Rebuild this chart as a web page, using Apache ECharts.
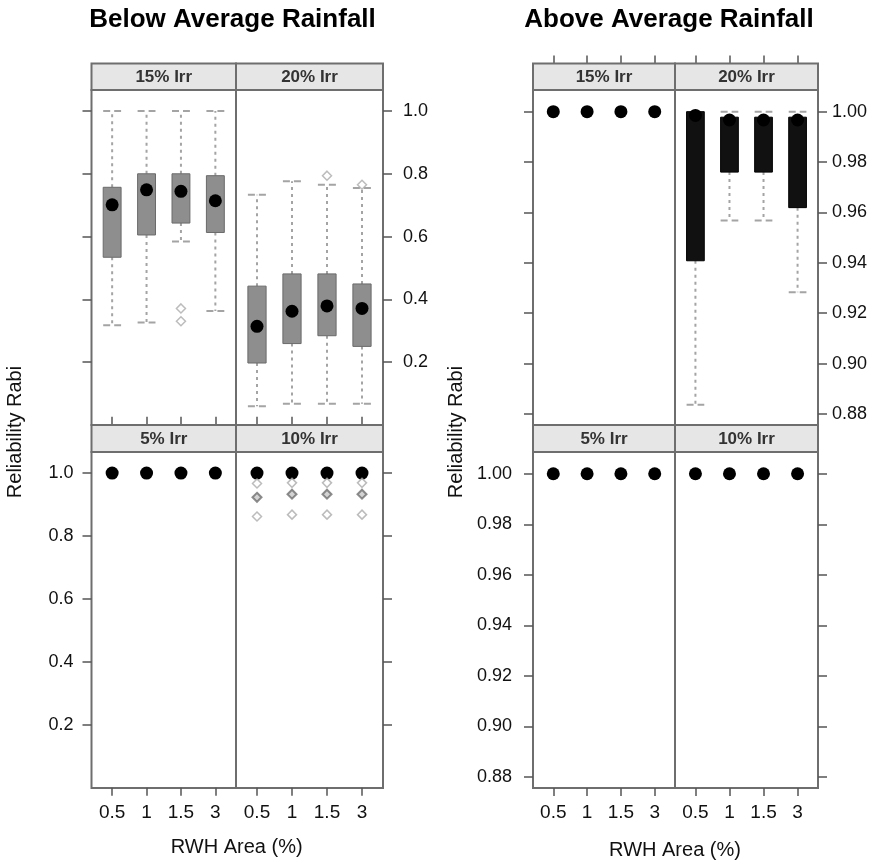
<!DOCTYPE html>
<html>
<head>
<meta charset="utf-8">
<title>Reliability Rabi</title>
<script src="https://cdn.jsdelivr.net/npm/echarts@6/dist/echarts.min.js"></script>
<style>
  html, body { margin: 0; padding: 0; background: #fff; }
  #chart { width: 875px; height: 864px; }
</style>
</head>
<body>
<div id="chart"></div>
<script>
// RWH area categories along every panel's x axis
const areaLabels = ['0.5', '1', '1.5', '3'];

// Tick values of the two reliability scales
const ticksBelow = [0.2, 0.4, 0.6, 0.8, 1.0];
const ticksAbove = [0.88, 0.90, 0.92, 0.94, 0.96, 0.98, 1.00];

// Box statistics per RWH area: [lower whisker, Q1, median, Q3, upper whisker]
// Below average rainfall
const below15 = [
  [0.317, 0.534, 0.701, 0.757, 1.0],
  [0.326, 0.605, 0.749, 0.800, 1.0],
  [0.584, 0.643, 0.744, 0.800, 1.0],
  [0.363, 0.613, 0.714, 0.794, 1.0]
];
const below20 = [
  [0.059, 0.197, 0.314, 0.442, 0.733],
  [0.067, 0.259, 0.362, 0.481, 0.776],
  [0.067, 0.284, 0.379, 0.481, 0.765],
  [0.067, 0.250, 0.371, 0.449, 0.755]
];
const below5 = [
  [1, 1, 1, 1, 1], [1, 1, 1, 1, 1], [1, 1, 1, 1, 1], [1, 1, 1, 1, 1]
];
const below10 = [
  [1, 1, 1, 1, 1], [1, 1, 1, 1, 1], [1, 1, 1, 1, 1], [1, 1, 1, 1, 1]
];
// Outliers: [area index (1-4), reliability]
const below15Outliers = [[3, 0.371], [3, 0.330]];
const below20Outliers = [[3, 0.794], [4, 0.765]];
const below10Outliers = [
  [1, 0.967], [1, 0.862], [2, 0.969], [2, 0.868],
  [3, 0.969], [3, 0.868], [4, 0.969], [4, 0.868]
];
// Outliers hit by several runs (drawn darker)
const below10Repeated = [[1, 0.923], [2, 0.933], [3, 0.933], [4, 0.933]];

// Above average rainfall
const above15 = [
  [1, 1, 1, 1, 1], [1, 1, 1, 1, 1], [1, 1, 1, 1, 1], [1, 1, 1, 1, 1]
];
const above20 = [
  [0.8836, 0.9408, 0.9985, 1.0000, 1.0],
  [0.9568, 0.9760, 0.9967, 0.9978, 1.0],
  [0.9568, 0.9760, 0.9967, 0.9978, 1.0],
  [0.9283, 0.9619, 0.9967, 0.9978, 1.0]
];
const above5 = [
  [1, 1, 1, 1, 1], [1, 1, 1, 1, 1], [1, 1, 1, 1, 1], [1, 1, 1, 1, 1]
];
const above10 = [
  [1, 1, 1, 1, 1], [1, 1, 1, 1, 1], [1, 1, 1, 1, 1], [1, 1, 1, 1, 1]
];

// ---- layout ----
const FONT = '"Liberation Sans", Arial, Helvetica, sans-serif';
const FRAME = '#6e6e6e';
const ROWS = { stripTop: 63.5, topData: 90, stripMid: 425, botData: 452, bottom: 788 };

const figures = [
  {
    title: 'Below Average Rainfall',
    x0: 91.5, xm: 236, x1: 383,
    titleX: 232.5, nameX: 236.7, nameY: 847, ylabX: 15,
    yMin: -0.0005, yMax: 1.067, ticks: ticksBelow, digits: 1,
    leftMargin: 18, rightMargin: 20,
    boxFill: '#8e8e8e', boxStroke: '#6a6a6a',
    panels: [
      { row: 0, col: 0, strip: '15% Irr', boxes: below15, outliers: below15Outliers },
      { row: 0, col: 1, strip: '20% Irr', boxes: below20, outliers: below20Outliers },
      { row: 1, col: 0, strip: '5% Irr', boxes: below5, outliers: [] },
      { row: 1, col: 1, strip: '10% Irr', boxes: below10, outliers: below10Outliers, repeated: below10Repeated }
    ]
  },
  {
    title: 'Above Average Rainfall',
    x0: 533, xm: 675, x1: 818,
    titleX: 669, nameX: 675, nameY: 850, ylabX: 456,
    yMin: 0.8756, yMax: 1.0086, ticks: ticksAbove, digits: 2,
    leftMargin: 21, rightMargin: 14,
    boxFill: '#111111', boxStroke: '#000000',
    panels: [
      { row: 0, col: 0, strip: '15% Irr', boxes: above15, outliers: [] },
      { row: 0, col: 1, strip: '20% Irr', boxes: above20, outliers: [] },
      { row: 1, col: 0, strip: '5% Irr', boxes: above5, outliers: [] },
      { row: 1, col: 1, strip: '10% Irr', boxes: above10, outliers: [] }
    ]
  }
];

// Box-and-whisker glyph: dashed whiskers with caps, filled box, black median dot
function makeBoxRenderer(fig) {
  return function (params, api) {
    const x = api.value(0);
    const lo = api.value(1), q1 = api.value(2), md = api.value(3), q3 = api.value(4), hi = api.value(5);
    const cx = api.coord([x, md])[0];
    const y = v => api.coord([x, v])[1];
    const hw = api.size([1, 0])[0] * 0.26;
    const whisker = { stroke: '#a4a4a4', lineWidth: 2, lineDash: [3, 4] };
    const cap = { stroke: '#a4a4a4', lineWidth: 2, lineDash: [7, 4] };
    const children = [];
    if (hi > q3) {
      children.push({ type: 'line', shape: { x1: cx, y1: y(q3), x2: cx, y2: y(hi) }, style: whisker });
      children.push({ type: 'line', shape: { x1: cx - hw, y1: y(hi), x2: cx + hw, y2: y(hi) }, style: cap });
    }
    if (lo < q1) {
      children.push({ type: 'line', shape: { x1: cx, y1: y(q1), x2: cx, y2: y(lo) }, style: whisker });
      children.push({ type: 'line', shape: { x1: cx - hw, y1: y(lo), x2: cx + hw, y2: y(lo) }, style: cap });
    }
    if (q3 > q1) {
      children.push({
        type: 'rect',
        shape: { x: cx - hw, y: y(q3), width: hw * 2, height: y(q1) - y(q3) },
        style: { fill: fig.boxFill, stroke: fig.boxStroke, lineWidth: 1 }
      });
    }
    children.push({ type: 'circle', shape: { cx: cx, cy: y(md), r: 6.5 }, style: { fill: '#000' } });
    return { type: 'group', children: children };
  };
}

const grids = [], xAxes = [], yAxes = [], series = [], graphics = [];

figures.forEach(fig => {
  // figure title, x-axis name, y-axis name
  graphics.push({
    type: 'text', x: fig.titleX, y: 20,
    style: { text: fig.title, fontSize: 26, fontWeight: 'bold', fontFamily: FONT, fill: '#000',
      align: 'center', verticalAlign: 'middle', textAlign: 'center', textVerticalAlign: 'middle' }
  });
  graphics.push({
    type: 'text', x: fig.nameX, y: fig.nameY,
    style: { text: 'RWH Area (%)', fontSize: 20, fontFamily: FONT, fill: '#111',
      align: 'center', verticalAlign: 'middle', textAlign: 'center', textVerticalAlign: 'middle' }
  });
  graphics.push({
    type: 'text', x: fig.ylabX, y: 432, rotation: Math.PI / 2,
    style: { text: 'Reliability Rabi', fontSize: 20, fontFamily: FONT, fill: '#111',
      align: 'center', verticalAlign: 'middle', textAlign: 'center', textVerticalAlign: 'middle' }
  });

  fig.panels.forEach(p => {
    const i = grids.length;
    const left = p.col === 0 ? fig.x0 : fig.xm;
    const right = p.col === 0 ? fig.xm : fig.x1;
    const top = p.row === 0 ? ROWS.topData : ROWS.botData;
    const bottom = p.row === 0 ? ROWS.stripMid : ROWS.bottom;
    const stripTop = p.row === 0 ? ROWS.stripTop : ROWS.stripMid;

    grids.push({
      left: left, top: top, width: right - left, height: bottom - top,
      show: true, borderColor: FRAME, borderWidth: 2, backgroundColor: 'transparent'
    });

    // strip with the irrigation level
    graphics.push({
      type: 'rect', z: 10,
      shape: { x: left, y: stripTop, width: right - left, height: top - stripTop },
      style: { fill: '#e6e6e6', stroke: FRAME, lineWidth: 2 }
    });
    graphics.push({
      type: 'text', z: 11, x: (left + right) / 2, y: (stripTop + top) / 2 + 1,
      style: { text: p.strip, fontSize: 17, fontWeight: 'bold', fontFamily: FONT, fill: '#333',
        align: 'center', verticalAlign: 'middle', textAlign: 'center', textVerticalAlign: 'middle' }
    });

    xAxes.push({
      gridIndex: i, type: 'value', min: 0.4, max: 4.6,
      position: p.row === 0 ? 'top' : 'bottom',
      offset: p.row === 0 ? top - stripTop : 0,
      axisLine: { show: false }, splitLine: { show: false },
      axisTick: { show: true, inside: false, length: 8, customValues: [1, 2, 3, 4],
        lineStyle: { color: '#555', width: 1.5 } },
      axisLabel: { show: p.row === 1, customValues: [1, 2, 3, 4], margin: 15,
        formatter: v => areaLabels[Math.round(v) - 1],
        fontSize: 19, fontFamily: FONT, color: '#111' }
    });

    const showYLabel = (p.row === 0 && p.col === 1) || (p.row === 1 && p.col === 0);
    yAxes.push({
      gridIndex: i, type: 'value', min: fig.yMin, max: fig.yMax,
      position: p.col === 0 ? 'left' : 'right',
      axisLine: { show: false }, splitLine: { show: false },
      axisTick: { show: true, inside: false, length: 9, customValues: fig.ticks,
        lineStyle: { color: '#555', width: 1.5 } },
      axisLabel: { show: showYLabel, customValues: fig.ticks,
        margin: p.col === 0 ? fig.leftMargin : fig.rightMargin,
        formatter: v => v.toFixed(fig.digits),
        fontSize: 18, fontFamily: FONT, color: '#111' }
    });

    series.push({
      type: 'custom', xAxisIndex: i, yAxisIndex: i, clip: false,
      renderItem: makeBoxRenderer(fig),
      encode: { x: 0, y: [1, 2, 3, 4, 5] },
      data: p.boxes.map((r, k) => [k + 1].concat(r)),
      z: 2
    });
    if (p.outliers.length) {
      series.push({
        type: 'scatter', xAxisIndex: i, yAxisIndex: i,
        symbol: 'diamond', symbolSize: 9,
        itemStyle: { color: '#ffffff', borderColor: '#ababab', borderWidth: 1.5 },
        data: p.outliers, z: 3, silent: true
      });
    }
    if (p.repeated) {
      series.push({
        type: 'scatter', xAxisIndex: i, yAxisIndex: i,
        symbol: 'diamond', symbolSize: 9,
        itemStyle: { color: '#c8c8c8', borderColor: '#6f6f6f', borderWidth: 2 },
        data: p.repeated, z: 3, silent: true
      });
    }
  });
});

const chart = echarts.init(document.getElementById('chart'), null, { renderer: 'canvas' });
chart.setOption({
  animation: false,
  backgroundColor: '#fff',
  grid: grids,
  xAxis: xAxes,
  yAxis: yAxes,
  series: series,
  graphic: { elements: graphics }
});
</script>
</body>
</html>
